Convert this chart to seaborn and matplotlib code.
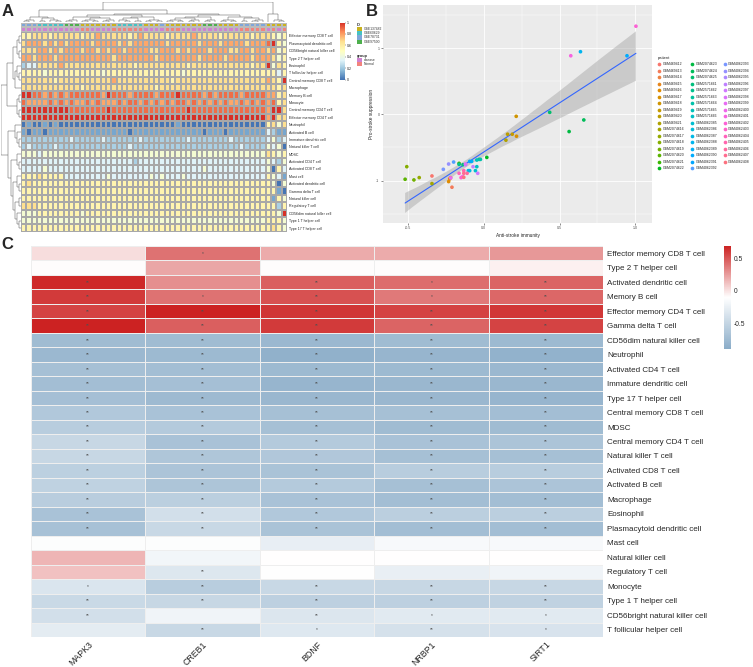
import numpy as np
import pandas as pd
import seaborn as sns
import matplotlib.pyplot as plt
from matplotlib.colors import LinearSegmentedColormap, ListedColormap
from matplotlib.patches import Rectangle

sns.set_style("white")
plt.rcParams['font.family'] = ['Liberation Sans', 'DejaVu Sans']

W, H = 753, 667

# ---------------- Panel A: ssGSEA scores (rows = cells, 50 samples) ----------------
cellsA = ["Effector memory CD8 T cell", "Plasmacytoid dendritic cell", "CD56bright natural killer cell",
          "Type 2 T helper cell", "Eosinophil", "T follicular helper cell", "Central memory CD8 T cell",
          "Macrophage", "Memory B cell", "Monocyte", "Central memory CD4 T cell", "Effector memory CD4 T cell",
          "Neutrophil", "Activated B cell", "Immature dendritic cell", "Natural killer T cell", "MDSC",
          "Activated CD4 T cell", "Activated CD8 T cell", "Mast cell", "Activated dendritic cell",
          "Gamma delta T cell", "Natural killer cell", "Regulatory T cell", "CD56dim natural killer cell",
          "Type 1 T helper cell", "Type 17 T helper cell"]

# one digit per sample, value = digit / 9
heatA = [
    "5566656666 6566766666 5676666566 6676666566 666566 6545",
    "6777676767 7776777767 6777777677 7776777677 776777 8954",
    "6667767677 7677676776 7777667776 7677767776 677677 6745",
    "7767776777 7777777677 7777767777 7776777767 777677 7645",
    "2336666766 6666666666 6566666666 6566666666 666566 9465",
    "5555455555 5555545555 5555555555 4555555555 555555 5535",
    "6666665666 6666666766 6666666656 6666666666 666666 7659",
    "6666666666 6566666666 6666656666 6666666666 666666 6656",
    "9988787878 8888879888 7888878889 8888787888 878888 7756",
    "8777787878 7787877787 8878787878 8787878787 787878 7856",
    "9999999998 8888889888 8888888888 8988888888 888888 7996",
    "9999999999 9999999999 9999999999 9999999999 999999 7966",
    "0100101000 0000000000 0000000001 0000000000 000000 5646",
    "1011011111 1111111111 0111111111 1111011101 111111 3211",
    "2222222223 2222232222 2232222222 2322222223 222222 3423",
    "2322223222 2222222222 3222222222 2222222222 232222 4340",
    "4443444444 4444444444 4444444444 4444444444 444444 6545",
    "3333333333 3333333333 3233333333 3333333333 333333 4324",
    "3333433333 3333333333 3333333333 3333433333 333333 4053",
    "5556555533 3333334333 3333434333 4333333333 333333 5431",
    "5655555555 5555555555 5555555555 5555555555 555555 5404",
    "5555555555 5555555555 5555555555 5555555555 555555 5510",
    "5555555555 5555555555 5555555555 5555555555 555555 5154",
    "6665555555 5555555555 5555555555 5555555555 555555 5525",
    "4445555555 5455555555 5555555555 5555555555 555555 5549",
    "4444444444 4444444444 4444444444 4444444444 444444 5554",
    "5555555555 5555555555 5555555555 5555555555 555555 5654",
]

# dataset of each sample (Y=GSE137482, C=GSE60629, B=GSE78731, G=GSE97500)
idA = "BBB CCCCC GGG YYYYYYY CCCCC YYY B YYYYYYY GGG YYYY BBBBB YYYY"
# group of each sample (D=disease, N=Normal)
groupA = "DDDDDDDDDDD NN DDDD NNNNNN DDDD NNN DDDDDDDDDDD NNNNN D N D N"

id_names = ["GSE137482", "GSE60629", "GSE78731", "GSE97500"]
id_keys = ["Y", "C", "B", "G"]
id_cols = ["#C9B21E", "#45C2C4", "#7FA6D9", "#4DAF4C"]
grp_names = ["disease", "Normal"]
grp_keys = ["D", "N"]
grp_cols = ["#CF82D2", "#F2837D"]

# dendrogram trees (leaf = row / column position); a tuple gives an explicit height
row_tree = (10, (7, [[[0, 1], [2, 3]], [[4, [5, 6]], 7]], [[8, 9], [10, 11]]),
            (6.5, [12, [13, [14, 15]]], [[16, [17, 18]], [[19, [20, 21]], [[22, 23], [24, [25, 26]]]]]))
col_tree = (14,
            (8.5,
             [[[[0, 1], 2], [[3, 4], [5, [6, 7]]]]],
             [[[[[8, 9], 10], [[[11, 12], [13, 14]], [[15, 16], 17]]],
               [[[18, [19, 20]], [21, 22]], [[23, 24], [25, 26]]]],
              [[[[[27, 28], [29, 30]], [[31, 32], 33]], [[34, 35], 36]],
               [[[37, 38], [39, 40]], [[41, 42], [[43, 44], 45]]]]]),
            (6, 46, [47, [48, 49]]))

# ---------------- Panel B: immunity scores per patient ----------------
patients = ["GSM469412", "GSM469413", "GSM469414", "GSM469415", "GSM469416", "GSM469417",
            "GSM469418", "GSM469419", "GSM469420", "GSM469421", "GSM2074616", "GSM2074617",
            "GSM2074618", "GSM2074619", "GSM2074620", "GSM2074621", "GSM2074622",
            "GSM2074623", "GSM2074624", "GSM2074625", "GSM2571661", "GSM2571662", "GSM2571663",
            "GSM2571664", "GSM2571665", "GSM2571666", "GSM4062385", "GSM4062386", "GSM4062387",
            "GSM4062388", "GSM4062389", "GSM4062390", "GSM4062391", "GSM4062392",
            "GSM4062393", "GSM4062394", "GSM4062395", "GSM4062396", "GSM4062397", "GSM4062398",
            "GSM4062399", "GSM4062400", "GSM4062401", "GSM4062402", "GSM4062403", "GSM4062404",
            "GSM4062405", "GSM4062406", "GSM4062407", "GSM4062408"]
anti = [-0.342, -0.210, -0.219, -0.225, -0.232, 0.216, 0.214, 0.188, 0.157, 0.146,
        -0.342, -0.426, -0.508, -0.461, -0.519, -0.163, 0.020, 0.563, 0.660, 0.435,
        -0.137, -0.163, -0.031, -0.022, -0.046, -0.046, -0.055, -0.102, -0.093, 0.638,
        -0.080, 0.945, -0.093, -0.199, -0.267, -0.232, -0.120, -0.071, -0.040, -0.121,
        -0.218, -0.140, 0.574, 1.004, -0.150, -0.163, -0.132, -0.110, -0.132, -0.132]
pro = [-0.93, -1.10, -0.955, -0.975, -1.015, -0.33, -0.03, -0.30, -0.30, -0.39,
       -1.045, -0.955, -0.79, -0.99, -0.98, -0.74, -0.65, -0.26, -0.085, 0.03,
       -0.76, -0.755, -0.68, -0.68, -0.69, -0.79, -0.85, -0.85, -0.85, 0.945,
       -0.71, 0.884, -0.71, -0.72, -0.83, -0.75, -0.76, -0.79, -0.89, -0.75,
       -0.96, -0.94, 0.884, 1.33, -0.955, -0.89, -0.85, -0.89, -0.89, -0.95]

# ---------------- Panel C: correlation of genes with immune cells ----------------
genes = ["MAPK3", "CREB1", "BDNF", "NRBP1", "SIRT1"]
cellsC = ["Effector memory CD8 T cell", "Type 2 T helper cell", "Activated dendritic cell", "Memory B cell",
          "Effector memory CD4 T cell", "Gamma delta T cell", "CD56dim natural killer cell", "Neutrophil",
          "Activated CD4 T cell", "Immature dendritic cell", "Type 17 T helper cell",
          "Central memory CD8 T cell", "MDSC", "Central memory CD4 T cell", "Natural killer T cell",
          "Activated CD8 T cell", "Activated B cell", "Macrophage", "Eosinophil",
          "Plasmacytoid dendritic cell", "Mast cell", "Natural killer cell", "Regulatory T cell",
          "Monocyte", "Type 1 T helper cell", "CD56bright natural killer cell", "T follicular helper cell"]
corrC = [
    [0.02, 0.40, 0.20, 0.20, 0.27],
    [-0.09, 0.22, -0.09, -0.09, -0.05],
    [0.66, 0.30, 0.47, 0.42, 0.45],
    [0.60, 0.40, 0.52, 0.38, 0.44],
    [0.57, 0.69, 0.62, 0.57, 0.61],
    [0.69, 0.47, 0.60, 0.45, 0.57],
    [-0.74, -0.74, -0.77, -0.74, -0.76],
    [-0.77, -0.76, -0.84, -0.80, -0.83],
    [-0.70, -0.72, -0.76, -0.76, -0.77],
    [-0.72, -0.71, -0.80, -0.78, -0.78],
    [-0.71, -0.75, -0.78, -0.78, -0.80],
    [-0.62, -0.68, -0.70, -0.70, -0.72],
    [-0.58, -0.60, -0.70, -0.74, -0.74],
    [-0.48, -0.68, -0.60, -0.68, -0.66],
    [-0.48, -0.64, -0.63, -0.70, -0.70],
    [-0.55, -0.66, -0.67, -0.58, -0.58],
    [-0.53, -0.65, -0.60, -0.70, -0.66],
    [-0.57, -0.56, -0.68, -0.72, -0.72],
    [-0.68, -0.40, -0.62, -0.56, -0.56],
    [-0.69, -0.47, -0.67, -0.72, -0.72],
    [-0.12, -0.12, -0.26, -0.15, -0.15],
    [0.16, -0.19, -0.10, -0.10, -0.10],
    [0.12, -0.33, -0.11, -0.25, -0.20],
    [-0.35, -0.58, -0.47, -0.48, -0.48],
    [-0.46, -0.48, -0.54, -0.54, -0.52],
    [-0.40, -0.20, -0.34, -0.30, -0.30],
    [-0.28, -0.47, -0.32, -0.38, -0.36],
]
# significance: 0 = none, 1 = *, 2 = **
sigC = ["01000", "00000", "20212", "21212", "22222", "22222", "22222", "22222", "22222",
        "22222", "22222", "22222", "22222", "22222", "22222", "22222", "22222", "22222",
        "22222", "22222", "00000", "00000", "02000", "12222", "22222", "20211", "02121"]


def ax_px(l, t, r, b):
    return fig.add_axes([l / W, 1 - b / H, (r - l) / W, (b - t) / H])


def draw_tree(ax, tree, n, orient):
    def seg(p1, h1, p2, h2):
        if orient == "top":
            ax.plot([p1, p2], [h1, h2], color="#555555", lw=0.35, solid_capstyle="butt")
        else:
            ax.plot([h1, h2], [p1, p2], color="#555555", lw=0.35, solid_capstyle="butt")

    def rec(node):
        if isinstance(node, int):
            return node + 0.5, 0.0
        if isinstance(node, tuple):
            h, kids = node[0], node[1:]
        else:
            h, kids = None, node
        res = [rec(k) for k in kids]
        if h is None:
            h = max(r[1] for r in res) + 1
        for p, hh in res:
            seg(p, hh, p, h)
        seg(res[0][0], h, res[-1][0], h)
        return (res[0][0] + res[-1][0]) / 2, h

    _, top = rec(tree)
    if orient == "top":
        ax.set_xlim(0, n)
        ax.set_ylim(0, top * 1.03)
    else:
        ax.set_ylim(n, 0)
        ax.set_xlim(top * 1.03, 0)
    ax.axis("off")


def hcl_hex(h, c=100, l=65):
    hr = np.deg2rad(h)
    U, V = c * np.cos(hr), c * np.sin(hr)
    Y = ((l + 16) / 116) ** 3
    Xn, Yn, Zn = 0.95047, 1.0, 1.08883
    d = Xn + 15 * Yn + 3 * Zn
    u = U / (13 * l) + 4 * Xn / d
    v = V / (13 * l) + 9 * Yn / d
    X = Y * 9 * u / (4 * v)
    Z = Y * (12 - 3 * u - 20 * v) / (4 * v)
    M = np.array([[3.2406, -1.5372, -0.4986], [-0.9689, 1.8758, 0.0415], [0.0557, -0.2040, 1.0570]])
    lin = M @ np.array([X, Y, Z])
    rgb = np.where(lin <= 0.0031308, 12.92 * lin, 1.055 * np.abs(lin) ** (1 / 2.4) - 0.055)
    return tuple(np.clip(rgb, 0, 1))


fig = plt.figure(figsize=(W / 100, H / 100), dpi=100, facecolor="white")
over = fig.add_axes([0, 0, 1, 1])
over.set_xlim(0, W)
over.set_ylim(H, 0)
over.axis("off")

# ================= Panel A =================
matA = np.array([[int(ch) / 9 for ch in s.replace(" ", "")] for s in heatA])
dfA = pd.DataFrame(matA, index=cellsA)
cmapA = LinearSegmentedColormap.from_list(
    "rdylbu7", ["#4575B4", "#91BFDB", "#E0F3F8", "#FFFFBF", "#FEE090", "#FC8D59", "#D73027"])

axA = ax_px(21, 32.3, 287, 231.7)
sns.heatmap(dfA, ax=axA, cmap=cmapA, vmin=0, vmax=1, cbar=False, linewidths=0.3,
            linecolor="#A8A8A8", xticklabels=False, yticklabels=cellsA)
axA.yaxis.tick_right()
axA.tick_params(axis="y", length=0, labelsize=2.6, pad=1.5, labelrotation=0)

ann_codes = np.array([[id_keys.index(ch) for ch in idA.replace(" ", "")],
                      [4 + grp_keys.index(ch) for ch in groupA.replace(" ", "")]])
axAnn = ax_px(21, 22.6, 287, 32.0)
sns.heatmap(ann_codes, ax=axAnn, cmap=ListedColormap(id_cols + grp_cols), vmin=-0.5, vmax=5.5,
            cbar=False, xticklabels=False, yticklabels=False, linewidths=0.2, linecolor="#BBBBBB")

axCD = ax_px(21, 1.5, 287, 22.4)
draw_tree(axCD, col_tree, 50, "top")
axRD = ax_px(0.5, 32.3, 20.5, 231.7)
draw_tree(axRD, row_tree, 27, "left")

caxA = ax_px(340, 22.5, 344.5, 79.5)
cbA = fig.colorbar(axA.collections[0], cax=caxA, ticks=[0, 0.2, 0.4, 0.6, 0.8, 1])
cbA.ax.set_yticklabels(["0", "0.2", "0.4", "0.6", "0.8", "1"])
cbA.outline.set_visible(False)
caxA.tick_params(labelsize=2.6, length=0.8, width=0.3, pad=1)

# annotation legend
over.text(357, 24.6, "ID", fontsize=2.8, fontweight="bold", va="center", ha="left")
for i, (nm, c) in enumerate(zip(id_names, id_cols)):
    y0 = 26.6 + 4.35 * i
    over.add_patch(Rectangle((357, y0), 5, 4.35, facecolor=c, edgecolor="none"))
    over.text(363.5, y0 + 2.2, nm, fontsize=2.4, va="center", ha="left", color="#333333")
over.text(357, 55.5, "group", fontsize=2.8, fontweight="bold", va="center", ha="left")
for i, (nm, c) in enumerate(zip(grp_names, grp_cols)):
    y0 = 57.5 + 4.35 * i
    over.add_patch(Rectangle((357, y0), 5, 4.35, facecolor=c, edgecolor="none"))
    over.text(363.5, y0 + 2.2, nm, fontsize=2.4, va="center", ha="left", color="#333333")

# ================= Panel B =================
dfB = pd.DataFrame({"anti": anti, "pro": pro, "patient": patients})
pal = {p: hcl_hex(h) for p, h in zip(patients, np.linspace(15, 375, len(patients) + 1)[:-1])}

axB = ax_px(383, 5, 652, 223)
axB.set_facecolor("#EBEBEB")
sns.regplot(data=dfB, x="anti", y="pro", scatter=False, ci=95, seed=3, ax=axB,
            color="#3366FF", line_kws={"lw": 0.8, "zorder": 3})
for coll in axB.collections:
    coll.set_facecolor("#999999")
    coll.set_alpha(0.4)
    coll.set_edgecolor("none")
sns.scatterplot(data=dfB, x="anti", y="pro", hue="patient", palette=pal, s=7, linewidth=0,
                ax=axB, zorder=4, legend="full")
axB.set_xlim(-0.665, 1.11)
axB.set_ylim(-1.64, 1.65)
axB.set_xticks([-0.5, 0.0, 0.5, 1.0])
axB.set_xticklabels(["-0.5", "0.0", "0.5", "1.0"])
axB.set_yticks([-1, 0, 1])
axB.set_yticklabels(["-1", "0", "1"])
axB.set_xticks([-0.25, 0.25, 0.75], minor=True)
axB.set_yticks([-1.5, -0.5, 0.5, 1.5], minor=True)
axB.grid(which="major", color="white", lw=0.6)
axB.grid(which="minor", color="white", lw=0.3)
axB.set_axisbelow(True)
for sp in axB.spines.values():
    sp.set_visible(False)
axB.tick_params(which="major", length=1.5, width=0.4, color="#333333", labelsize=2.6,
                labelcolor="#4D4D4D", pad=1, bottom=True, left=True)
axB.tick_params(which="minor", length=0)
axB.set_xlabel("Anti-stroke immunity", fontsize=3.4, labelpad=2)
axB.set_ylabel("Pro-stroke suppression", fontsize=3.4, labelpad=2)
hB, lB = axB.get_legend_handles_labels()
axB.legend(hB, lB, ncol=3, loc="upper left", bbox_to_anchor=(656 / W, 1 - 54 / H),
           bbox_transform=fig.transFigure, frameon=False, fontsize=2.5, title="patient",
           title_fontsize=3, alignment="left", handlelength=1.0, handletextpad=0.6,
           columnspacing=1.5, labelspacing=0.72, borderpad=0, markerscale=1.0)

# ================= Panel C =================
dfC = pd.DataFrame(corrC, index=cellsC, columns=genes)
starC = np.array([[["", "*", "**"][int(ch)] for ch in s] for s in sigC])
cmapC = LinearSegmentedColormap.from_list("bwr_soft", ["#8AACC8", "#FFFFFF", "#CC2222"])

axC = ax_px(31, 246, 603, 637)
caxC = ax_px(724, 246, 731, 349)
sns.heatmap(dfC, ax=axC, cmap=cmapC, vmin=-0.89, vmax=0.69, annot=starC, fmt="",
            annot_kws={"fontsize": 3.5, "color": "#505050"}, linewidths=0.6, linecolor="#EEEEEE",
            cbar_ax=caxC, cbar_kws={"ticks": [-0.5, 0, 0.5]})
axC.yaxis.tick_right()
axC.tick_params(axis="y", length=0, labelsize=5.8, pad=3, labelrotation=0)
axC.tick_params(axis="x", length=0, labelsize=6.3, pad=2)
plt.setp(axC.get_xticklabels(), rotation=45, ha="right", rotation_mode="anchor")
axC.set_xlabel("")
axC.set_ylabel("")
cbC = axC.collections[0].colorbar
cbC.outline.set_visible(False)
cbC.ax.set_yticklabels(["-0.5", "0", "0.5"])
caxC.tick_params(labelsize=4.8, length=0, pad=2)

# panel letters
over.text(1.5, 3.5, "A", fontsize=12, fontweight="bold", va="top", ha="left")
over.text(366, 3.5, "B", fontsize=12, fontweight="bold", va="top", ha="left")
over.text(1.5, 237, "C", fontsize=12, fontweight="bold", va="top", ha="left")

fig.savefig("out.png", dpi=100, facecolor="white")
